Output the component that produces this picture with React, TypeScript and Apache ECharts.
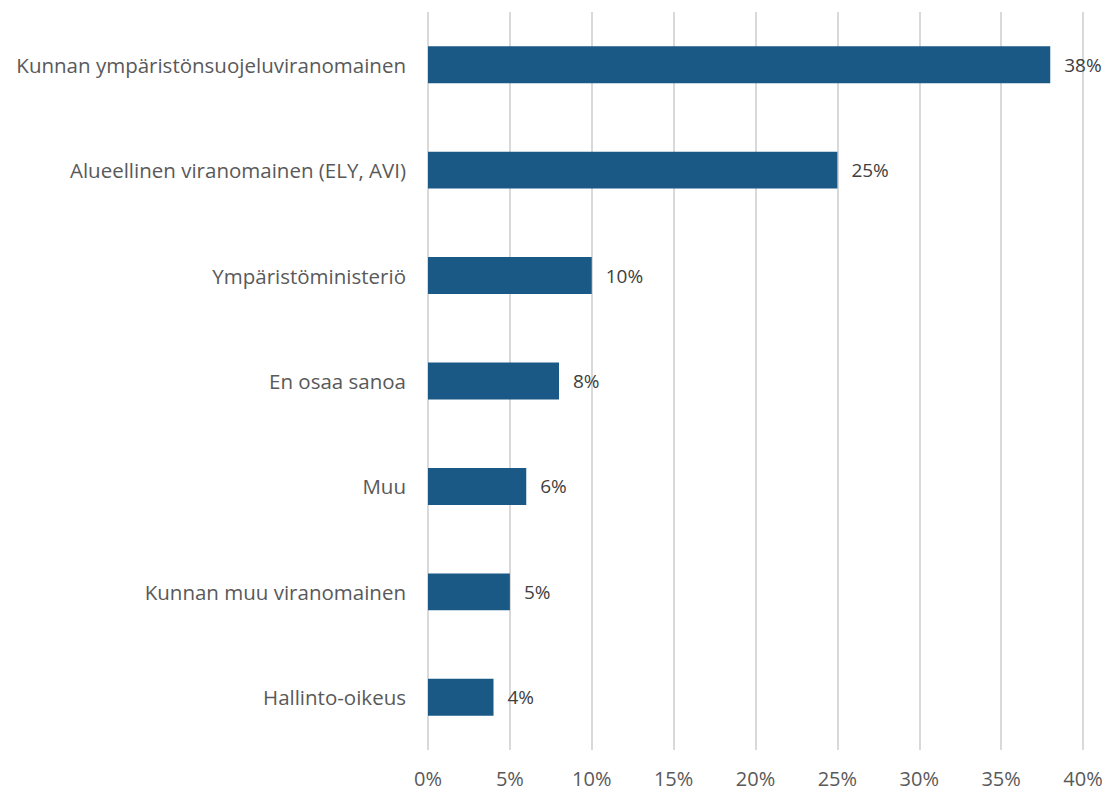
import React, { useEffect, useRef } from "react";
import * as echarts from "echarts";

const categories = [
  "Kunnan ympäristönsuojeluviranomainen",
  "Alueellinen viranomainen (ELY, AVI)",
  "Ympäristöministeriö",
  "En osaa sanoa",
  "Muu",
  "Kunnan muu viranomainen",
  "Hallinto-oikeus",
];
const values = [38, 25, 10, 8, 6, 5, 4];

export default function App() {
  const ref = useRef<HTMLDivElement>(null);
  useEffect(() => {
    const chart = echarts.init(ref.current!, undefined, { renderer: "svg" });
    chart.setOption({
      animation: false,
      textStyle: { fontFamily: "Open Sans" },
      grid: { left: 420, right: 27, top: 4, bottom: 42 },
      xAxis: {
        type: "value",
        min: 0,
        max: 40,
        interval: 5,
        axisLine: { show: false },
        axisTick: { show: false },
        axisLabel: {
          formatter: "{value}%",
          color: "#595959",
          fontSize: 20,
          margin: 18,
          fontFamily: "Open Sans",
        },
        splitLine: { lineStyle: { color: "#d9d9d9", width: 2 } },
      },
      yAxis: {
        type: "category",
        data: categories,
        inverse: true,
        axisLine: { show: false },
        axisTick: { show: false },
        axisLabel: {
          color: "#595959",
          fontSize: 20.5,
          margin: 22,
          fontFamily: "Open Sans",
        },
      },
      series: [
        {
          type: "bar",
          data: values,
          barCategoryGap: "65%",
          itemStyle: { color: "#1a5886" },
          label: {
            show: true,
            position: "right",
            distance: 14,
            formatter: "{c}%",
            color: "#404040",
            fontSize: 19,
            fontFamily: "Open Sans",
          },
        },
      ],
    });
    return () => chart.dispose();
  }, []);
  return <div ref={ref} style={{ width: 1102, height: 784 }} />;
}
